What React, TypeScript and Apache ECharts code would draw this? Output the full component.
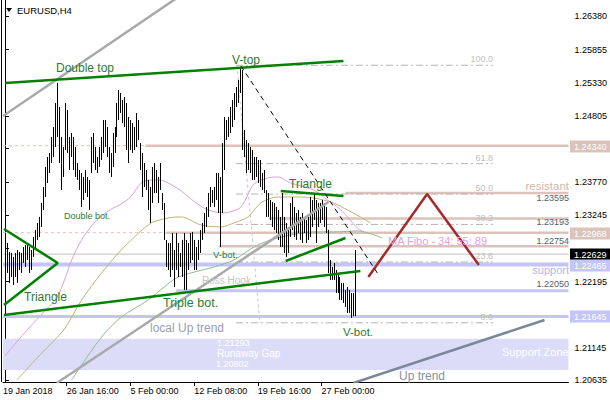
import React, { useEffect, useRef } from 'react';
import * as echarts from 'echarts';

// ---------- DATA ----------
const barHigh = [
  1.22963, 1.22805, 1.22663, 1.22648, 1.22585, 1.22648, 1.22695, 1.22663, 1.22648, 1.22742,
  1.22774, 1.22805, 1.22742, 1.22695, 1.22900, 1.23011, 1.23121, 1.23216, 1.23437, 1.23689,
  1.24005, 1.24163, 1.24226, 1.24478, 1.24636, 1.25015, 1.25330, 1.24952, 1.24478, 1.24320,
  1.25015, 1.24904, 1.24478, 1.24541, 1.24478, 1.24320, 1.24068, 1.23957, 1.23910, 1.23847,
  1.23957, 1.23847, 1.23800, 1.24478, 1.24541, 1.24320, 1.24163, 1.24320, 1.24478, 1.24746,
  1.24746, 1.24636, 1.24320, 1.24226, 1.24541, 1.24636, 1.25015, 1.25220, 1.25172, 1.25062,
  1.25109, 1.25015, 1.24794, 1.24746, 1.24699, 1.24636, 1.24857, 1.24746, 1.24383, 1.24226,
  1.24068, 1.23957, 1.23800, 1.23689, 1.24005, 1.24068, 1.23957, 1.23847, 1.24068, 1.23594,
  1.23437, 1.22853, 1.22805, 1.22805, 1.22963, 1.22695, 1.22963, 1.22805, 1.22648, 1.22853,
  1.22963, 1.22853, 1.22805, 1.22963, 1.22979, 1.22853, 1.22742, 1.22853, 1.23011, 1.23121,
  1.23279, 1.23374, 1.23594, 1.23689, 1.23642, 1.23689, 1.23910, 1.23910, 1.23847, 1.24383,
  1.24794, 1.24746, 1.24794, 1.24952, 1.25062, 1.25172, 1.25267, 1.25378, 1.25583, 1.25535,
  1.24589, 1.24431, 1.24383, 1.24320, 1.24273, 1.24163, 1.24163, 1.24115, 1.24115, 1.23910,
  1.23957, 1.23642, 1.23594, 1.23484, 1.23453, 1.23437, 1.23374, 1.23326, 1.23216, 1.23594,
  1.23216, 1.23121, 1.23058, 1.23437, 1.23531, 1.23374, 1.23279, 1.23326, 1.23216, 1.23279,
  1.23216, 1.23168, 1.23216, 1.23531, 1.23484, 1.23594, 1.23484, 1.23437, 1.23437, 1.23484,
  1.23437, 1.23374, 1.23011, 1.22537, 1.22427, 1.22490, 1.22379, 1.22332, 1.22269, 1.22174,
  1.22174, 1.22064, 1.22111, 1.22064, 1.22016, 1.22016, 1.22695,
];
const barLow = [
  1.22427, 1.22332, 1.22174, 1.22269, 1.22143, 1.22269, 1.22174, 1.22379, 1.22332, 1.22490,
  1.22427, 1.22537, 1.22332, 1.22379, 1.22585, 1.22695, 1.22853, 1.22900, 1.23058, 1.23326,
  1.23531, 1.23752, 1.23910, 1.24068, 1.24163, 1.24320, 1.24478, 1.24068, 1.23642, 1.23847,
  1.24273, 1.24226, 1.23957, 1.24163, 1.23957, 1.23847, 1.23800, 1.23642, 1.23374, 1.23484,
  1.23594, 1.23531, 1.23326, 1.23910, 1.24068, 1.23957, 1.23910, 1.24005, 1.24115, 1.24226,
  1.24320, 1.24163, 1.23910, 1.23847, 1.24005, 1.24226, 1.24478, 1.24746, 1.24857, 1.24699,
  1.24636, 1.24273, 1.24068, 1.24273, 1.24226, 1.24273, 1.24320, 1.24431, 1.23957, 1.23531,
  1.23689, 1.23642, 1.23326, 1.23121, 1.23437, 1.23594, 1.23594, 1.23437, 1.23642, 1.23326,
  1.22853, 1.22427, 1.22379, 1.22269, 1.22379, 1.22111, 1.22379, 1.22269, 1.22427, 1.22269,
  1.22064, 1.22064, 1.22379, 1.22490, 1.22537, 1.22379, 1.22379, 1.22537, 1.22648, 1.22853,
  1.22963, 1.23058, 1.23216, 1.23374, 1.23437, 1.23374, 1.23484, 1.23279, 1.22742, 1.23279,
  1.23957, 1.24431, 1.24478, 1.24541, 1.24636, 1.24746, 1.24952, 1.25015, 1.25172, 1.24273,
  1.24163, 1.23910, 1.23957, 1.23910, 1.23800, 1.23800, 1.23847, 1.23752, 1.23689, 1.23642,
  1.23594, 1.23216, 1.23216, 1.23168, 1.23058, 1.23011, 1.22963, 1.22853, 1.22742, 1.22742,
  1.22648, 1.22585, 1.22648, 1.22900, 1.23011, 1.22900, 1.22853, 1.22963, 1.22853, 1.22805,
  1.22963, 1.22805, 1.22853, 1.22900, 1.23058, 1.23168, 1.22805, 1.23058, 1.23121, 1.23168,
  1.23058, 1.22963, 1.22332, 1.22222, 1.22222, 1.22222, 1.22016, 1.22016, 1.21906, 1.21906,
  1.21859, 1.21796, 1.21701, 1.21701, 1.21622, 1.21650, 1.21650,
];

const xTickIndex = [-1, 31, 63, 95, 127, 159];
const xTickLabels = ['19 Jan 2018', '26 Jan 16:00', '5 Feb 00:00', '12 Feb 08:00', '19 Feb 16:00', '27 Feb 00:00'];
// price ticks; the two marked hidden sit under the price tags and show no label
const yTickValues = [1.2638, 1.25855, 1.2533, 1.24805, 1.24295, 1.2377, 1.23245, 1.2272, 1.22195, 1.21145, 1.20635];
const yHiddenLabels = [1.24295, 1.2272];

// moving averages (bar index, price)
const ma34 = [
  [0, 1.21022], [8.5, 1.21338], [18.5, 1.21685], [26, 1.21938], [29.5, 1.2219], [33.5, 1.22537],
  [38.5, 1.22853], [43.5, 1.23074], [48.5, 1.23232], [53.5, 1.23342], [58.5, 1.23421], [63.5, 1.23547],
  [68.5, 1.23752], [73.5, 1.238], [77, 1.238], [81, 1.23768], [88.5, 1.23626], [96, 1.23437],
  [102, 1.23326], [110, 1.23279], [114.5, 1.2331], [118.5, 1.23374], [122, 1.23563], [125, 1.23736],
  [132, 1.23831], [137, 1.23847], [143.5, 1.23752], [155, 1.23642], [162, 1.23484], [167, 1.23374],
  [172, 1.23216], [177, 1.23042], [181, 1.22963],
];
const ma55 = [
  [6, 1.20644], [18.5, 1.2107], [29.5, 1.21433], [38.5, 1.21906], [48.5, 1.22332], [57, 1.22648],
  [65, 1.229], [73.5, 1.23121], [82, 1.232], [88.5, 1.23216], [98.5, 1.23089], [108.5, 1.23058],
  [115, 1.23121], [122, 1.23216], [128.5, 1.23437], [137, 1.23531], [147, 1.23531], [155, 1.23516],
  [165, 1.23437], [172, 1.23326], [178.5, 1.23216], [183.5, 1.23121],
];
const ma89 = [
  [33.5, 1.20644], [48.5, 1.21322], [58.5, 1.21638], [72, 1.21906], [80, 1.22111], [87, 1.22269],
  [105, 1.22427], [115, 1.22537], [125, 1.22742], [133.5, 1.22853], [143.5, 1.22932], [155, 1.22979],
  [165, 1.22979], [177, 1.22995], [189.5, 1.22884],
];

// drawn objects (bar index, price)
const doubleTopLine = [[0, 1.2533], [170, 1.25677]];
const triangleLeft = [[-0.5, 1.23026], [26.5, 1.2249], [-0.5, 1.21827]];
const tripleBotLine = [[-0.5, 1.21669], [178.5, 1.22364]];
const triangleUpper = [[138.5, 1.23626], [170, 1.23547]];
const triangleLower = [[141, 1.22521], [171, 1.22884]];
const channelUpper = [[-1, 1.2481], [90, 1.2675]];
const channelLower = [[26, 1.20596], [162.5, 1.23452]];
const upTrendLine = [[175, 1.20596], [271, 1.2159]];
const dashedTrend = [[118.5, 1.25599], [187, 1.22332]];
const projection = [[182.5, 1.22269], [212, 1.23579], [238, 1.22458]];

const fiboHigh = 1.2561;
const fiboLow = 1.21545;
const fiboLevels = [0, 23.6, 38.2, 50, 61.8, 100];
const fiboFrom = 116;
const fiboTo = 245;
const fiboBase = [[116.5, 1.2561], [128, 1.21545]];

const pinkLevelPrices = [1.2434, 1.22968, 1.23595, 1.23193, 1.22754];
const pinkLevelStarts = [70.5, 81, 171, 132.5, 107.5];
const pinkDashedPrices = [1.2434, 1.22968];
const blueLevelPrices = [1.22465, 1.2205, 1.21645];
const blueLevelStarts = [-1, 86, -1];
const askPrice = 1.22629;
const supportZone = [1.20802, 1.21293];
const priceTags = [1.2434, 1.22968, 1.22629, 1.22465, 1.21645];

const X_MIN = -1;
const X_MAX = 283;

// ---------- STYLE ----------
const FONT = '"Liberation Sans", Arial, sans-serif';
const GREEN = '#008000';
const LABEL_GREEN = '#2a7d2e';
const PINK = '#dbc3bb';
const BLUE = '#c4c4f6';
const tagColors = [PINK, PINK, '#000000', BLUE, BLUE];

type Ann = { text: string; x: number; y: number; size: number; color: string; align?: string };
const annotations: Ann[] = [
  { text: 'EURUSD,H4', x: 17, y: 10, size: 9.5, color: '#000' },
  { text: 'Double top', x: 56, y: 68, size: 12, color: LABEL_GREEN },
  { text: 'V-top', x: 232, y: 60, size: 12, color: LABEL_GREEN },
  { text: 'Triangle', x: 289, y: 184, size: 12, color: LABEL_GREEN },
  { text: 'Double bot.', x: 64, y: 216, size: 9, color: LABEL_GREEN },
  { text: 'V-bot.', x: 213, y: 254, size: 9.5, color: LABEL_GREEN },
  { text: 'Triangle', x: 24, y: 297, size: 12, color: LABEL_GREEN },
  { text: 'Triple bot.', x: 163, y: 303, size: 12.5, color: LABEL_GREEN },
  { text: 'Ross Hook', x: 202, y: 280, size: 10, color: '#c4c4c4' },
  { text: 'local Up trend', x: 150, y: 328, size: 12, color: '#98a0b0' },
  { text: 'V-bot.', x: 343, y: 332, size: 11.5, color: LABEL_GREEN },
  { text: '1.21293', x: 217, y: 343, size: 9, color: '#ffffff' },
  { text: 'Runaway Gap', x: 217, y: 353, size: 10, color: '#ffffff' },
  { text: '1.20802', x: 216, y: 364, size: 9, color: '#ffffff' },
  { text: 'Support Zone', x: 502, y: 352, size: 11, color: '#ffffff' },
  { text: 'Up trend', x: 399, y: 376, size: 12, color: '#8890a0' },
  { text: 'MA Fibo - 34; 55; 89', x: 388, y: 241, size: 11, color: '#e4a0e4' },
  { text: 'resistant', x: 569, y: 186, size: 11.5, color: '#d2b6ae', align: 'right' },
  { text: '1.23595', x: 569, y: 198, size: 9, color: '#506070', align: 'right' },
  { text: '1.23193', x: 569, y: 222, size: 9, color: '#506070', align: 'right' },
  { text: '1.22754', x: 569, y: 241, size: 9, color: '#506070', align: 'right' },
  { text: 'support', x: 569, y: 270, size: 11, color: '#b4b4f0', align: 'right' },
  { text: '1.22050', x: 569, y: 284, size: 9, color: '#506070', align: 'right' },
  { text: '100.0', x: 493, y: 59, size: 9, color: '#c0c0c0', align: 'right' },
  { text: '61.8', x: 493, y: 158, size: 9, color: '#c0c0c0', align: 'right' },
  { text: '50.0', x: 493, y: 188, size: 9, color: '#c0c0c0', align: 'right' },
  { text: '38.2', x: 493, y: 218, size: 9, color: '#c0c0c0', align: 'right' },
  { text: '23.6', x: 493, y: 256, size: 9, color: '#c0c0c0', align: 'right' },
  { text: '0.0', x: 493, y: 317, size: 9, color: '#c0c0c0', align: 'right' },
];

function line(data: number[][], color: string, width: number, type: any = 'solid', z = 5, smooth: any = false) {
  return {
    type: 'line',
    data,
    symbol: 'none',
    silent: true,
    smooth,
    clip: true,
    lineStyle: { color, width, type },
    z,
  };
}

export default function App() {
  const ref = useRef<HTMLDivElement>(null);

  useEffect(() => {
    if (!ref.current) return;
    const chart = echarts.init(ref.current, null, { renderer: 'svg' });

    const bars = barHigh.map((h, i) => [i, h, barLow[i]]);

    const series: any[] = [];

    // support zone
    series.push({
      type: 'line',
      data: [],
      silent: true,
      z: 1,
      markArea: {
        silent: true,
        itemStyle: { color: '#dcdcf9' },
        data: [[{ xAxis: X_MIN, yAxis: supportZone[1] }, { xAxis: X_MAX, yAxis: supportZone[0] }]],
      },
    });

    // horizontal levels
    pinkDashedPrices.forEach((p) => {
      const end = pinkLevelStarts[pinkLevelPrices.indexOf(p)];
      series.push(line([[X_MIN, p], [end, p]], '#e2c0b8', 1, [3, 3], 2));
    });
    pinkLevelPrices.forEach((p, k) => {
      series.push(line([[pinkLevelStarts[k], p], [X_MAX, p]], PINK, 2.5, 'solid', 2));
    });
    blueLevelPrices.forEach((p, k) => {
      series.push(line([[blueLevelStarts[k], p], [X_MAX, p]], BLUE, k === 0 ? 4 : 3, 'solid', 2));
    });

    // fibo
    fiboLevels.forEach((lv) => {
      const p = fiboLow + ((fiboHigh - fiboLow) * lv) / 100;
      series.push(line([[fiboFrom, p], [fiboTo, p]], '#b4b4b4', 1, [7, 3, 2, 3], 2));
    });
    series.push(line(fiboBase, '#c8c8c8', 1, [3, 3], 2));

    // ask line
    series.push(line([[X_MIN, askPrice], [X_MAX, askPrice]], '#c0c0c0', 1, 'solid', 2));

    // moving averages
    series.push(line(ma89, '#8fbc8f', 1, 'solid', 3, 0.3));
    series.push(line(ma55, '#bdb76b', 1, 'solid', 3, 0.3));
    series.push(line(ma34, '#dda0dd', 1, 'solid', 3, 0.3));

    // bars
    series.push({
      type: 'custom',
      data: bars,
      encode: { x: 0, y: [1, 2] },
      silent: true,
      clip: true,
      z: 4,
      renderItem: (params: any, api: any) => {
        const i = api.value(0);
        const top = api.coord([i, api.value(1)]);
        const bot = api.coord([i, api.value(2)]);
        const x = Math.round(top[0]) + 0.5;
        return {
          type: 'line',
          shape: { x1: x, y1: top[1], x2: x, y2: bot[1] },
          style: { stroke: '#000', lineWidth: 1 },
        };
      },
    });

    // trend objects
    series.push(line(channelUpper, '#a9a9a9', 2.5, 'solid', 6));
    series.push(line(channelLower, '#a9a9a9', 2.5, 'solid', 6));
    series.push(line(upTrendLine, '#778899', 2.5, 'solid', 6));
    series.push(line(doubleTopLine, GREEN, 2.5, 'solid', 6));
    series.push(line(triangleLeft, GREEN, 2.5, 'solid', 6));
    series.push(line(tripleBotLine, GREEN, 2.5, 'solid', 6));
    series.push(line(triangleUpper, GREEN, 2.5, 'solid', 6));
    series.push(line(triangleLower, GREEN, 2.5, 'solid', 6));
    series.push(line(dashedTrend, '#000000', 1, [5, 4], 6));
    series.push(line(projection, '#a52a2a', 2.5, 'solid', 6));

    chart.setOption({
      animation: false,
      backgroundColor: '#ffffff',
      grid: { left: 1, right: 41, top: 0, bottom: 18, containLabel: false },
      xAxis: {
        type: 'value',
        min: X_MIN,
        max: X_MAX,
        axisLine: { show: true, lineStyle: { color: '#000', width: 1 } },
        axisTick: { show: true, inside: false, length: 4, customValues: xTickIndex.slice(1), lineStyle: { color: '#000' } },
        axisLabel: {
          customValues: xTickIndex,
          formatter: (v: number) => {
            const k = xTickIndex.indexOf(Math.round(v));
            return k >= 0 ? xTickLabels[k] : '';
          },
          align: 'left',
          color: '#000',
          fontSize: 9,
          fontFamily: FONT,
          margin: 4,
          hideOverlap: false,
        },
        splitLine: { show: false },
      },
      yAxis: {
        type: 'value',
        position: 'right',
        min: 1.20611,
        max: 1.2664,
        axisLine: { show: true, lineStyle: { color: '#000', width: 1 } },
        axisTick: { show: true, inside: false, length: 4, customValues: yTickValues, lineStyle: { color: '#000' } },
        axisLabel: {
          customValues: yTickValues.filter((v) => yHiddenLabels.indexOf(v) < 0),
          formatter: (v: number) => v.toFixed(5),
          color: '#000',
          fontSize: 9,
          fontFamily: FONT,
          margin: 6,
        },
        splitLine: { show: false },
      },
      series,
    });

    const graphics: any[] = annotations.map((a) => ({
      type: 'text',
      x: a.x,
      y: a.y,
      z: 100,
      silent: true,
      style: {
        text: a.text,
        fill: a.color,
        fontSize: a.size,
        fontFamily: FONT,
        align: a.align || 'left',
        verticalAlign: 'middle',
      },
    }));
    graphics.push({
      type: 'polygon',
      z: 100,
      silent: true,
      shape: { points: [[6, 8], [12, 8], [9, 12]] },
      style: { fill: '#000' },
    });
    graphics.push({
      type: 'line',
      z: 100,
      silent: true,
      shape: { x1: 1.5, y1: 0, x2: 1.5, y2: 382 },
      style: { stroke: '#000', lineWidth: 1 },
    });

    // price tags on the right axis, placed through the y axis scale
    priceTags.forEach((p, k) => {
      const py = chart.convertToPixel({ yAxisIndex: 0 }, p) as number;
      graphics.push({
        type: 'group',
        z: 110,
        silent: true,
        children: [
          {
            type: 'rect',
            shape: { x: 570, y: Math.round(py) - 5.5, width: 40, height: 12 },
            style: { fill: tagColors[k] },
          },
          {
            type: 'text',
            x: 574,
            y: Math.round(py) + 0.5,
            style: {
              text: p.toFixed(5),
              fill: '#ffffff',
              fontSize: 9,
              fontFamily: FONT,
              align: 'left',
              verticalAlign: 'middle',
            },
          },
        ],
      });
    });

    chart.setOption({ graphic: graphics });

    return () => chart.dispose();
  }, []);

  return <div ref={ref} style={{ position: 'fixed', left: 0, top: 0, width: 610, height: 400 }} />;
}
